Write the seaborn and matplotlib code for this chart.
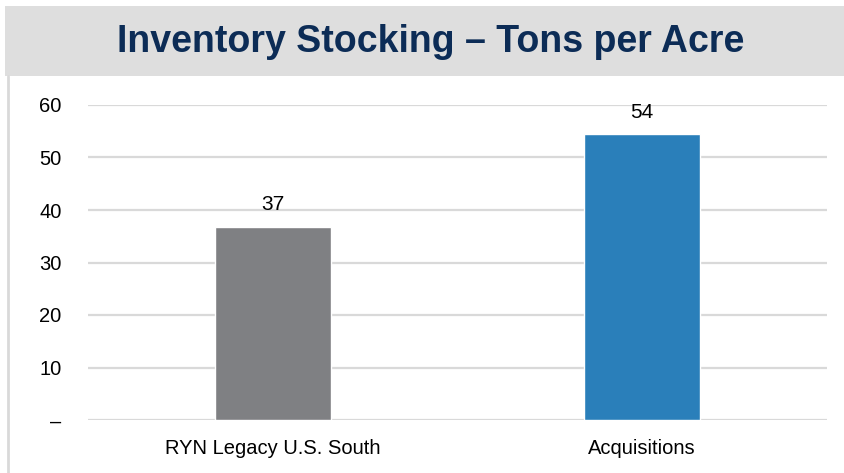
import matplotlib
matplotlib.use("Agg")
import matplotlib.pyplot as plt
import matplotlib.patches as mpatches
import matplotlib.lines as mlines
import seaborn as sns
import pandas as pd

# ── Data ───────────────────────────────────────────────────────────────────────
categories = ["RYN Legacy U.S. South", "Acquisitions"]
tons_per_acre = [36.8, 54.4]
value_labels = ["37", "54"]
bar_colors = ["#7f8083", "#2a7fba"]
y_ticks = [0, 10, 20, 30, 40, 50, 60]
y_tick_labels = ["–", "10", "20", "30", "40", "50", "60"]

TITLE = "Inventory Stocking – Tons per Acre"

df = pd.DataFrame({"category": categories, "value": tons_per_acre})

# ── Figure ─────────────────────────────────────────────────────────────────────
sns.set_style("white")
plt.rcParams["font.family"] = ["Liberation Sans", "DejaVu Sans"]
plt.rcParams["text.color"] = "black"
plt.rcParams["xtick.color"] = "black"
plt.rcParams["ytick.color"] = "black"

fig = plt.figure(figsize=(8.44, 4.73), dpi=100)
W, H = 844, 473

# title banner + frame line on the left
fig.patches.append(mpatches.Rectangle((5 / W, 1 - 76 / H), 1 - 5 / W, 70 / H,
                                      transform=fig.transFigure, facecolor="#dedede",
                                      edgecolor="none", zorder=0))
fig.lines.append(mlines.Line2D([8 / W, 8 / W], [0, 1 - 76 / H], transform=fig.transFigure,
                               color="#d9d9d9", lw=2))
fig.text(431 / W, 1 - 42 / H, TITLE, ha="center", va="center", fontsize=27,
         fontweight="bold", color="#0c2c56")

ax = fig.add_axes([88 / W, 53 / H, (827 - 88) / W, (420 - 105) / H])

sns.barplot(data=df, x="category", y="value", hue="category", palette=bar_colors,
            width=0.315, saturation=1, legend=False, ax=ax, zorder=3)

for i, (v, lab) in enumerate(zip(tons_per_acre, value_labels)):
    ax.text(i, v + 2.4, lab, ha="center", va="bottom", fontsize=15, color="black")

ax.set_ylim(0, 60)
ax.set_yticks(y_ticks)
ax.set_yticklabels(y_tick_labels, fontsize=14.5)
ax.tick_params(axis="y", length=0, pad=19)
ax.tick_params(axis="x", length=0, pad=14, labelsize=14.5)
ax.set_xlabel("")
ax.set_ylabel("")
ax.yaxis.grid(True, color="#d9d9d9", lw=1.6, zorder=0)
ax.set_axisbelow(True)
for spine in ax.spines.values():
    spine.set_visible(False)

fig.savefig("out.png", dpi=100)
